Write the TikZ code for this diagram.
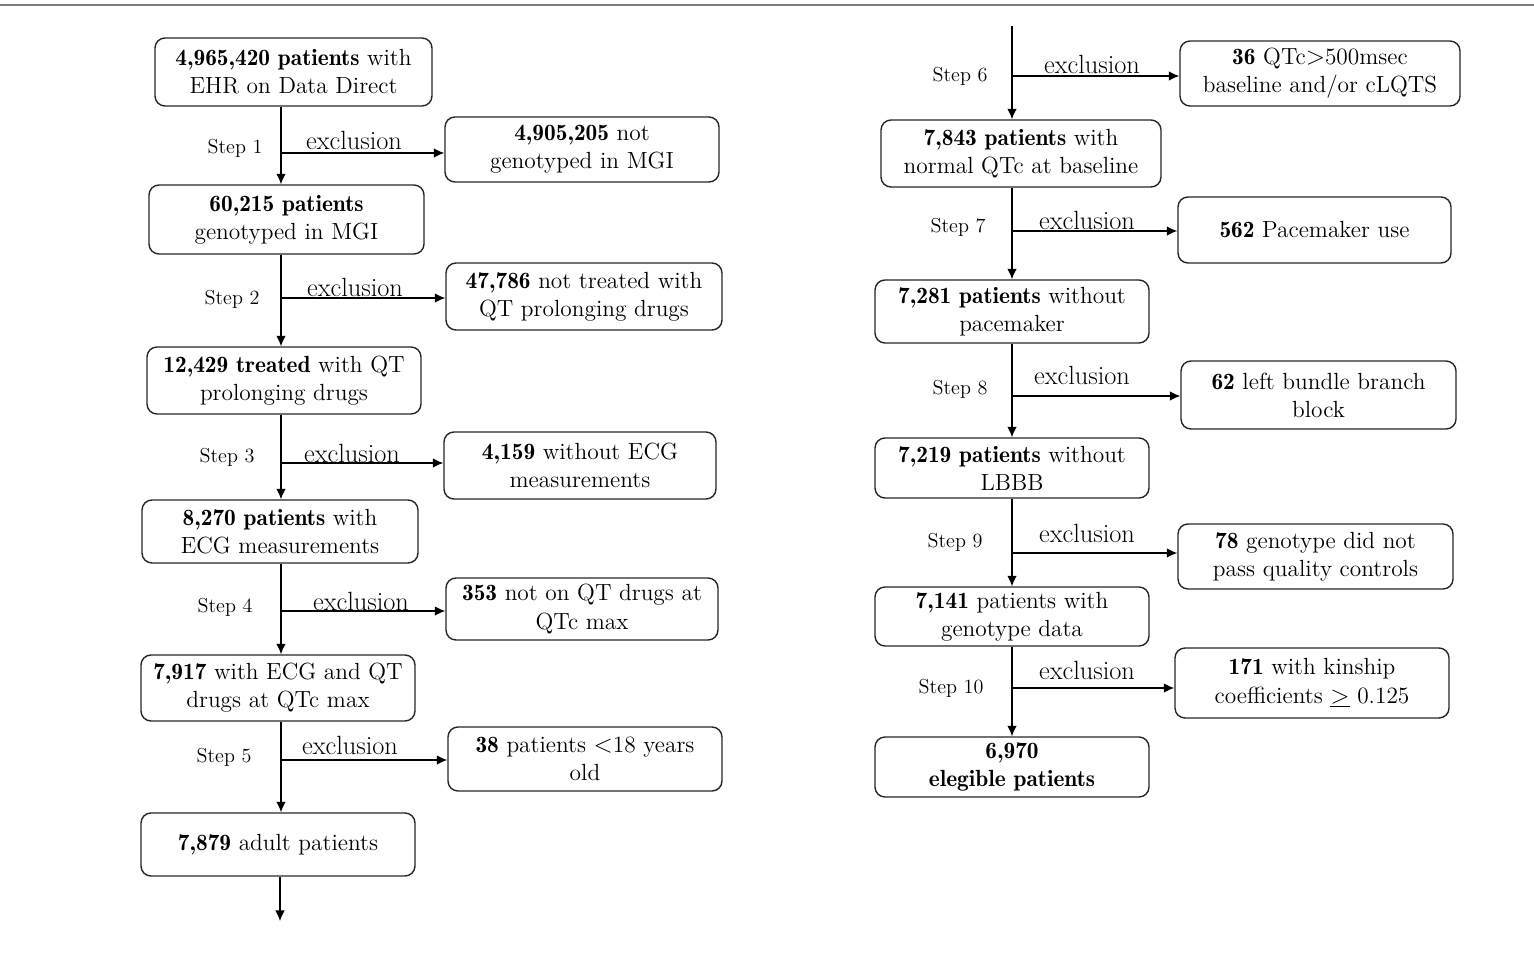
\documentclass[tikz,border=0pt]{standalone}
\usetikzlibrary{arrows.meta}
\def\pxu{0.02cm}
\newcommand{\B}[1]{{\fontseries{b}\selectfont #1}}
\tikzset{
  box/.style={draw=black!85, line width=0.8pt, rounded corners=0.2cm, align=center, inner sep=0pt,
    font=\fontsize{13.3}{16}\selectfont},
  arr/.style={line width=0.8pt, -{Latex[length=6pt,width=5.5pt]}},
  exlab/.style={inner sep=0pt, font=\fontsize{15}{18}\selectfont},
  steplab/.style={inner sep=0pt, font=\fontsize{11.5}{13}\selectfont},
}
\newcommand{\bx}[6]{\node[box, minimum width=#4*\pxu, minimum height=#5*\pxu] (#1) at (#2,#3) {#6};}
\begin{document}
\begin{tikzpicture}[x=0.02cm,y=-0.02cm]
\useasboundingbox (0,0) rectangle (1534,960);
\draw[black!50, line width=1.2pt] (0,5) -- (1534,5);

% left column main boxes
\bx{b1}{293.5}{72}{277}{68}{\B{4,965,420 patients} with\\EHR on Data Direct}
\bx{b2}{286.5}{219.5}{275}{69}{\B{60,215 patients}\\genotyped in MGI}
\bx{b3}{284}{380.5}{274}{67}{\B{12,429 treated} with QT\\prolonging drugs}
\bx{b4}{280}{531.5}{276}{63}{\B{8,270 patients} with\\ECG measurements}
\bx{b5}{278}{688}{274}{66}{\B{7,917} with ECG and QT\\drugs at QTc max}
\bx{b6}{278}{844.5}{274}{63}{\B{7,879} adult patients}
% left exclusion boxes
\bx{e1}{582}{149.5}{274}{65}{\B{4,905,205} not\\genotyped in MGI}
\bx{e2}{584}{296.5}{276}{67}{\B{47,786} not treated with\\QT prolonging drugs}
\bx{e3}{580}{465.5}{272}{67}{\B{4,159} without ECG\\measurements}
\bx{e4}{582}{609}{272}{62}{\B{353} not on QT drugs at\\QTc max}
\bx{e5}{585}{759}{274}{64}{\B{38} patients $<$18 years\\old}
% right column main boxes
\bx{b7}{1021}{153.5}{280}{67}{\B{7,843 patients} with\\normal QTc at baseline}
\bx{b8}{1012}{311.5}{274}{63}{\B{7,281 patients} without\\pacemaker}
\bx{b9}{1012}{468}{274}{60}{\B{7,219 patients} without\\LBBB}
\bx{b10}{1012}{616.5}{274}{59}{\B{7,141} patients with\\genotype data}
\bx{b11}{1012}{767}{274}{60}{\B{6,970}\\\B{elegible patients}}
% right exclusion boxes
\bx{e6}{1320}{73.5}{280}{65}{\B{36} QTc$>$500msec\\baseline and/or cLQTS}
\bx{e7}{1314.5}{230}{273}{66}{\B{562} Pacemaker use}
\bx{e8}{1318.5}{395}{275}{68}{\B{62} left bundle branch\\block}
\bx{e9}{1315.5}{556.5}{275}{65}{\B{78} genotype did not\\pass quality controls}
\bx{e10}{1312}{683}{274}{70}{\B{171} with kinship\\coefficients \underline{$>$} 0.125}

% spine coordinates
\coordinate (L) at (281,0);
\coordinate (R) at (1012,0);
\coordinate (top) at (1012,26);
\coordinate (end) at (280,921);
\coordinate (j1) at (281,153);
\coordinate (j2) at (281,298);
\coordinate (j3) at (281,463);
\coordinate (j4) at (281,611);
\coordinate (j5) at (281,760);
\coordinate (j6) at (1012,76);
\coordinate (j7) at (1012,231);
\coordinate (j8) at (1012,396);
\coordinate (j9) at (1012,553);
\coordinate (j10) at (1012,688);

% vertical arrows
\draw[arr] (b1.south -| L) -- (b2.north -| L);
\draw[arr] (b2.south -| L) -- (b3.north -| L);
\draw[arr] (b3.south -| L) -- (b4.north -| L);
\draw[arr] (b4.south -| L) -- (b5.north -| L);
\draw[arr] (b5.south -| L) -- (b6.north -| L);
\draw[arr] (b6.south -| end) -- (end);
\draw[arr] (top) -- (b7.north -| R);
\draw[arr] (b7.south -| R) -- (b8.north -| R);
\draw[arr] (b8.south -| R) -- (b9.north -| R);
\draw[arr] (b9.south -| R) -- (b10.north -| R);
\draw[arr] (b10.south -| R) -- (b11.north -| R);

% exclusion arrows
\draw[arr] (j1) -- (e1.west |- j1);
\draw[arr] (j2) -- (e2.west |- j2);
\draw[arr] (j3) -- (e3.west |- j3);
\draw[arr] (j4) -- (e4.west |- j4);
\draw[arr] (j5) -- (e5.west |- j5);
\draw[arr] (j6) -- (e6.west |- j6);
\draw[arr] (j7) -- (e7.west |- j7);
\draw[arr] (j8) -- (e8.west |- j8);
\draw[arr] (j9) -- (e9.west |- j9);
\draw[arr] (j10) -- (e10.west |- j10);

% exclusion labels
\node[exlab] (x1) at (354,140) {exclusion};
\node[exlab] (x2) at (355,287) {exclusion};
\node[exlab] (x3) at (352,453) {exclusion};
\node[exlab] (x4) at (361,601) {exclusion};
\node[exlab] (x5) at (350,745) {exclusion};
\node[exlab] (x6) at (1092,64) {exclusion};
\node[exlab] (x7) at (1087,220) {exclusion};
\node[exlab] (x8) at (1082,375) {exclusion};
\node[exlab] (x9) at (1087,533) {exclusion};
\node[exlab] (x10) at (1087,670) {exclusion};

% step labels
\node[steplab] (s1) at (235,148) {Step 1};
\node[steplab] (s2) at (232,299) {Step 2};
\node[steplab] (s3) at (227,457) {Step 3};
\node[steplab] (s4) at (225,607) {Step 4};
\node[steplab] (s5) at (224,757) {Step 5};
\node[steplab] (s6) at (960,76) {Step 6};
\node[steplab] (s7) at (958,227) {Step 7};
\node[steplab] (s8) at (960,389) {Step 8};
\node[steplab] (s9) at (955,542) {Step 9};
\node[steplab] (s10) at (951,688) {Step 10};
\end{tikzpicture}
\end{document}
